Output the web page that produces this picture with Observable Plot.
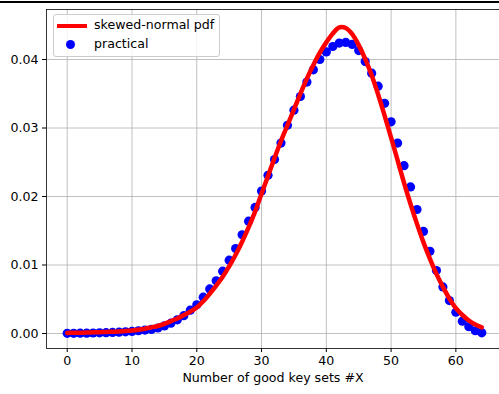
<!DOCTYPE html>
<html>
<head>
<meta charset="utf-8">
<script src="https://cdn.jsdelivr.net/npm/d3@7"></script>
<script src="https://cdn.jsdelivr.net/npm/@observablehq/plot@0.6"></script>
<style>
  html, body { margin: 0; padding: 0; background: #fff; overflow: hidden; }
  #wrap { position: relative; width: 499px; height: 394px; font-family: "DejaVu Sans", sans-serif; }
  #topline { position: absolute; left: 0; top: 1px; width: 499px; height: 2px; background: #000; }
  #legend { position: absolute; left: 53px; top: 14px; width: 167px; height: 43px; box-sizing: border-box;
            border: 1px solid #cccccc; border-radius: 3px; background: rgba(255,255,255,0.8); font-size: 12.6px; color: #000; }
  #legend .sw-line { position: absolute; left: 3px; top: 9px; width: 30px; height: 4px; background: #ff0000; }
  #legend .sw-dot { position: absolute; left: 12px; top: 25px; width: 9px; height: 9px; border-radius: 50%; background: #0000ff; }
  #legend .lab { position: absolute; left: 40px; line-height: 14px; white-space: nowrap; }
</style>
</head>
<body>
<div id="wrap">
  <div id="chart"></div>
  <div id="topline"></div>
  <div id="legend">
    <div class="sw-line"></div><div class="lab" style="top:3px">skewed-normal pdf</div>
    <div class="sw-dot"></div><div class="lab" style="top:22px">practical</div>
  </div>
</div>
<script>
// x positions (number of good key sets)
const xValues = [0,1,2,3,4,5,6,7,8,9,10,11,12,13,14,15,16,17,18,19,20,21,22,23,24,25,26,27,28,29,30,31,32,33,34,35,36,37,38,39,40,41,42,43,44,45,46,47,48,49,50,51,52,53,54,55,56,57,58,59,60,61,62,63,64];
// skewed-normal pdf
const pdfValues = [0.00008,0.0001,0.00012,0.00014,0.00017,0.0002,0.00022,0.00026,0.0003,0.00036,0.00044,0.00055,0.0007,0.0009,0.0011,0.0014,0.0018,0.0022,0.0027,0.0032,0.0038,0.0047,0.0058,0.0070,0.0083,0.0098,0.0115,0.0134,0.0155,0.0178,0.0204,0.0230,0.0256,0.0281,0.0304,0.0327,0.0350,0.0372,0.0392,0.0410,0.0425,0.0438,0.0447,0.0446,0.0437,0.0421,0.0401,0.0377,0.0349,0.0318,0.0286,0.0253,0.0220,0.0189,0.0160,0.0133,0.0109,0.0087,0.0068,0.0051,0.0037,0.0027,0.0019,0.0013,0.0009];
// practical (empirical) values
const practicalValues = [0.00002,0.00003,0.00004,0.00005,0.00007,0.0001,0.00012,0.00015,0.00019,0.00024,0.0003,0.0004,0.0005,0.0006,0.0008,0.0011,0.0015,0.0020,0.0026,0.0034,0.0042,0.0053,0.0065,0.0077,0.0091,0.0107,0.0124,0.0144,0.0164,0.0184,0.0208,0.0231,0.0254,0.0278,0.0304,0.0326,0.0346,0.0367,0.0385,0.0400,0.0411,0.0419,0.0424,0.0425,0.0422,0.0413,0.0397,0.0380,0.0361,0.0336,0.0309,0.0278,0.0245,0.0214,0.0181,0.0149,0.0120,0.0092,0.0068,0.0048,0.0031,0.0018,0.0010,0.0004,0.0001];
const xTicks = [0,10,20,30,40,50,60];
const yTicks = [0,0.01,0.02,0.03,0.04];
const xLabel = "Number of good key sets #X";

const pdfData = xValues.map((x, i) => ({x, y: pdfValues[i]}));
const practicalData = xValues.map((x, i) => ({x, y: practicalValues[i]}));
const xDomain = [-3.2, 67.2];
const yDomain = [-0.00219, 0.0473];

const chart = Plot.plot({
  width: 499,
  height: 394,
  marginLeft: 46,
  marginRight: 0,
  marginTop: 9,
  marginBottom: 46,
  style: {fontFamily: "DejaVu Sans, sans-serif", fontSize: "12.6px", color: "#000", background: "#fff"},
  x: {domain: xDomain, range: [46, 502]},
  y: {domain: yDomain, range: [348, 9]},
  marks: [
    Plot.gridX(xTicks, {stroke: "#b0b0b0", strokeOpacity: 1, strokeWidth: 0.8}),
    Plot.gridY(yTicks, {stroke: "#b0b0b0", strokeOpacity: 1, strokeWidth: 0.8}),
    Plot.dot(practicalData, {x: "x", y: "y", r: 4.6, fill: "#0000ff", stroke: "none"}),
    Plot.line(pdfData, {x: "x", y: "y", stroke: "#ff0000", strokeWidth: 4.5, curve: "catmull-rom"}),
    Plot.ruleX([xDomain[0]], {stroke: "#000", strokeWidth: 0.8}),
    Plot.ruleY(yDomain, {stroke: "#000", strokeWidth: 0.8}),
    Plot.axisX(xTicks, {tickSize: 4, tickPadding: 4, label: null, tickFormat: d => String(d), fontSize: 12.6}),
    Plot.axisY(yTicks, {tickSize: 4, tickPadding: 4, label: null, tickFormat: d => d.toFixed(2), fontSize: 12.6}),
    Plot.text([xLabel], {frameAnchor: "bottom", dy: 33, text: d => d, fontSize: 12.6})
  ]
});
document.getElementById("chart").appendChild(chart);
</script>
</body>
</html>
